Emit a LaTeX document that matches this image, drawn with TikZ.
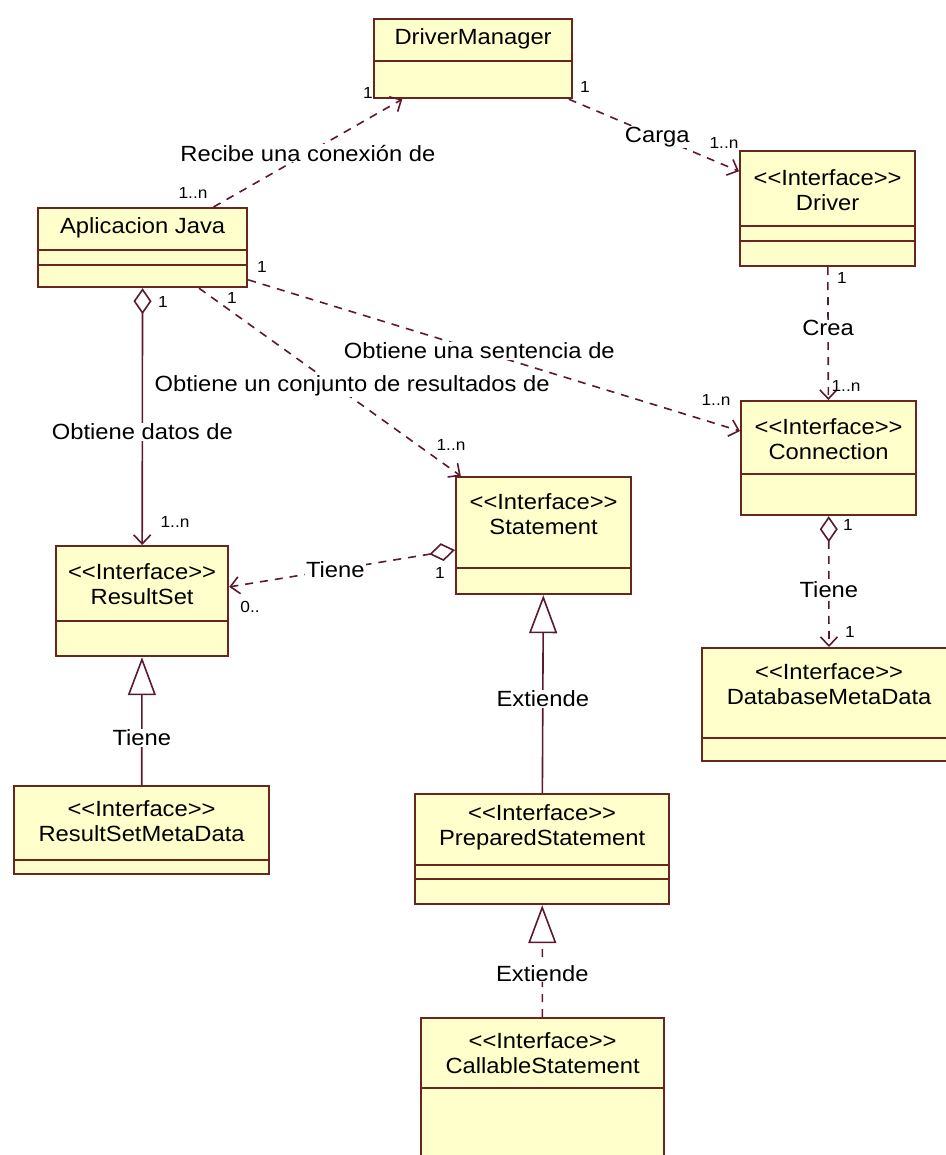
\documentclass[tikz,border=0pt]{standalone}
\usepackage{fontspec}
\setmainfont{Liberation Sans}[FakeStretch=1.08]
\usetikzlibrary{arrows.meta,positioning}
\definecolor{umlfill}{RGB}{255,255,204}
\definecolor{umlline}{RGB}{105,38,30}
\definecolor{linkcol}{RGB}{92,24,44}
\newcommand{\bigtxt}{\fontsize{22}{25}\selectfont}
\newcommand{\smalltxt}{\fontsize{16}{18}\selectfont}
\newcommand{\intf}{<\kern0pt<Interface>\kern0pt>}
\tikzset{%
	cls/.style={draw=umlline, line width=2.2pt, fill=umlfill, anchor=north west, inner sep=0pt},
	div/.style={path picture={\foreach \h in {#1} \draw[umlline, line width=2.2pt] ([yshift=-\h pt]path picture bounding box.north west) -- ([yshift=-\h pt]path picture bounding box.north east);}},
	nm/.style={align=center, font=\bigtxt, inner sep=0pt},
	lbl/.style={fill=white, inner sep=1pt, font=\bigtxt},
	mult/.style={font=\smalltxt, inner sep=0pt},
	dep/.style={draw=linkcol, line width=1.6pt, dash pattern=on 8pt off 7pt, -{Straight Barb[length=9pt,width=17pt]}},
	agg/.style={draw=linkcol, line width=1.6pt, {Diamond[open,length=26pt,width=18pt]}-{Straight Barb[length=9pt,width=17pt]}},
	gen/.style={draw=linkcol, line width=1.6pt, -{Triangle[open,length=38pt,width=28pt]}}
}
\begin{document}
\begin{tikzpicture}[x=1pt,y=-1pt]
	\useasboundingbox (0,0) rectangle (945,1155);

	% classes
	\node[cls, minimum width=198pt, minimum height=79pt, div=42] (mgr) at (373,18) {};
	\node[nm] (mgrtxt) at ([yshift=-21pt]mgr.north) {DriverManager};
	\node[cls, minimum width=209pt, minimum height=79pt, div={42,57}] (app) at (37,207) {};
	\node[nm] (apptxt) at ([yshift=-21pt]app.north) {Aplicacion Java};
	\node[cls, minimum width=175pt, minimum height=115pt, div={75,90}] (drv) at (739,150) {};
	\node[nm] (drvtxt) at ([yshift=-40pt]drv.north) {\intf\\Driver};
	\node[cls, minimum width=175pt, minimum height=114pt, div=73] (con) at (740,400) {};
	\node[nm] (contxt) at ([yshift=-39pt]con.north) {\intf\\Connection};
	\node[cls, minimum width=175pt, minimum height=117pt, div=91] (stm) at (455,476) {};
	\node[nm] (stmtxt) at ([yshift=-38pt]stm.north) {\intf\\Statement};
	\node[cls, minimum width=172pt, minimum height=110pt, div=75] (rs) at (55,545) {};
	\node[nm] (rstxt) at ([yshift=-39pt]rs.north) {\intf\\ResultSet};
	\node[cls, minimum width=255pt, minimum height=88pt, div=74] (rsmd) at (13,785) {};
	\node[nm] (rsmdtxt) at ([yshift=-36pt]rsmd.north) {\intf\\ResultSetMetaData};
	\node[cls, minimum width=254pt, minimum height=110pt, div={71,85}] (ps) at (414,793) {};
	\node[nm] (pstxt) at ([yshift=-34pt]ps.north) {\intf\\PreparedStatement};
	\node[cls, minimum width=243pt, minimum height=160pt, div=70] (cs) at (420,1017) {};
	\node[nm] (cstxt) at ([yshift=-36pt]cs.north) {\intf\\CallableStatement};
	\node[cls, minimum width=254pt, minimum height=113pt, div=90] (dmd) at (701,647) {};
	\node[nm] (dmdtxt) at ([yshift=-37pt]dmd.north) {\intf\\DatabaseMetaData};

	% relations
	\path[dep] (app) edge node[lbl, pos=.5] {Recibe una conexión de} (mgr);
	\path[dep] (mgr) edge node[lbl, pos=.52] {Carga} (drv);
	\path[dep] (drv) edge node[lbl, pos=.46] {Crea} (con);
	\path[dep] (app) edge node[lbl, pos=.47] {Obtiene una sentencia de} (con);
	\path[dep] (app) edge node[lbl, pos=.52, xshift=17pt] {Obtiene un conjunto de resultados de} (stm);
	\path[agg] (app) edge node[lbl, pos=.56] {Obtiene datos de} (rs);
	\path[agg, dash pattern=on 8pt off 7pt] (stm) edge node[lbl, pos=.53] {Tiene} (rs);
	\path[agg, dash pattern=on 8pt off 7pt] (con) edge node[lbl, pos=.56] {Tiene} (dmd);
	\path[gen] (rsmd) edge node[lbl, pos=.37] {Tiene} (rs);
	\path[gen] (ps) edge node[lbl, pos=.475] {Extiende} (stm);
	\path[gen, dash pattern=on 8pt off 7pt] (cs) edge node[lbl, pos=.39] {Extiende} (ps);

	% multiplicities
	\node[mult] (m1) at (368,93) {1};
	\node[mult] (m2) at (193,193) {1..n};
	\node[mult] (m3) at (585,87) {1};
	\node[mult] (m4) at (724,143) {1..n};
	\node[mult] (m5) at (842,278) {1};
	\node[mult] (m6) at (846,386) {1..n};
	\node[mult] (m7) at (716,400) {1..n};
	\node[mult] (m8) at (262,267) {1};
	\node[mult] (m9) at (163,302) {1};
	\node[mult] (m10) at (232,298) {1};
	\node[mult] (m11) at (451,445) {1..n};
	\node[mult] (m12) at (175,522) {1..n};
	\node[mult] (m13) at (440,573) {1};
	\node[mult] (m14) at (250,607) {0..};
	\node[mult] (m15) at (848,525) {1};
	\node[mult] (m16) at (850,632) {1};
\end{tikzpicture}
\end{document}
